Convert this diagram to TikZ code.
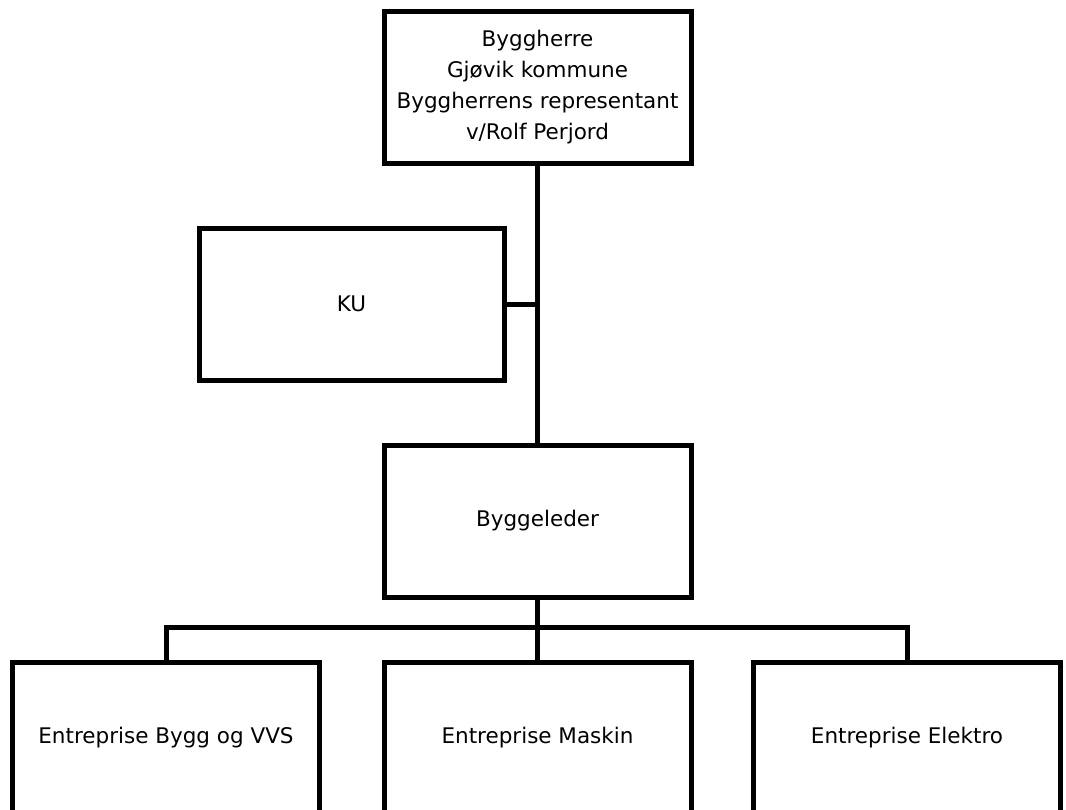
\documentclass[tikz,border=0pt]{standalone}
\usepackage{fontspec}
\setmainfont{DejaVu Sans}
\begin{document}
\begin{tikzpicture}[x=1pt,y=-1pt,
  orgbox/.style={draw=black, line width=5pt, fill=white, inner sep=0pt,
    minimum width=307pt, minimum height=152pt, align=center,
    font=\fontsize{21.5}{31}\selectfont},
  link/.style={draw=black, line width=5pt}]
\useasboundingbox (0,0) rectangle (1066,809);
\clip (0,0) rectangle (1066,809);
\node[orgbox] (top) at (537.5,87) {Byggherre\\Gjøvik kommune\\Byggherrens representant\\v/Rolf Perjord};
\node[orgbox, minimum width=305pt] (ku) at (351.5,304) {KU};
\node[orgbox] (bl) at (537.5,521) {Byggeleder};
\node[orgbox] (b1) at (166,738) {Entreprise Bygg og VVS};
\node[orgbox] (b2) at (537.5,738) {Entreprise Maskin};
\node[orgbox] (b3) at (907,738) {Entreprise Elektro};
\draw[link] (top.south) -- (bl.north);
\draw[link] (ku.east) -- (ku.east -| top.south);
\draw[link] (bl.south) -- (b2.north);
\draw[link] (b1.north) -- ++(0,-32) -| (b3.north);
\end{tikzpicture}
\end{document}
